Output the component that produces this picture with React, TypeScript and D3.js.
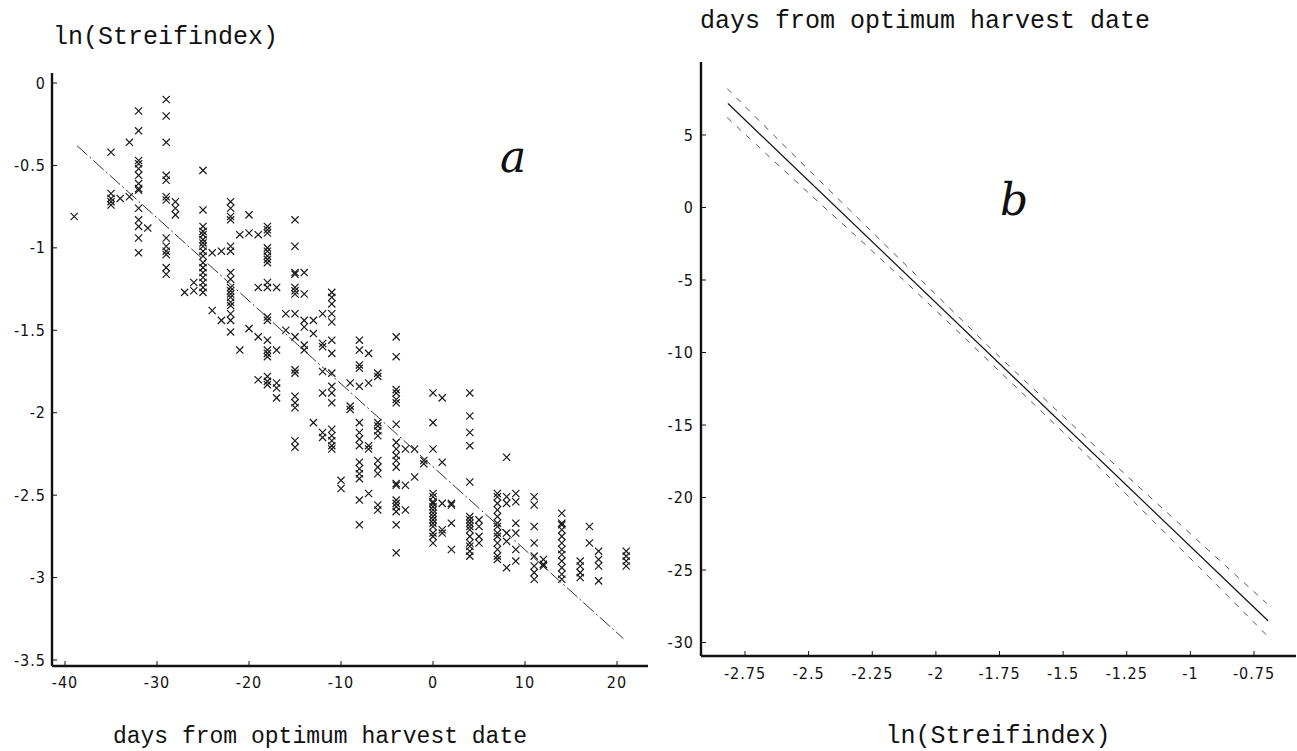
import React from "react";
import * as d3 from "d3";

const W = 1297;
const H = 751;

// ---------- Panel a: scatter, days from optimum harvest date vs ln(Streifindex)
const scatterColumns: [number, number[]][] = [
  [-39, [-0.81]],
  [-35, [-0.42, -0.67, -0.7, -0.72, -0.74]],
  [-34, [-0.7]],
  [-33, [-0.36, -0.69]],
  [-32, [-0.17, -0.29, -0.47, -0.49, -0.52, -0.56, -0.61, -0.64, -0.65, -0.76, -0.83, -0.87, -0.94, -1.03]],
  [-31, [-0.88]],
  [-29, [-0.1, -0.2, -0.36, -0.56, -0.59, -0.69, -0.71, -0.94, -0.99, -1.02, -1.04, -1.12, -1.16]],
  [-28, [-0.72, -0.76, -0.8]],
  [-27, [-1.27]],
  [-26, [-1.21, -1.26]],
  [-25, [-0.53, -0.77, -0.87, -0.9, -0.92, -0.95, -0.97, -0.99, -1.02, -1.05, -1.09, -1.12, -1.15, -1.18, -1.21, -1.24, -1.27]],
  [-24, [-1.03, -1.38]],
  [-23, [-1.02, -1.44]],
  [-22, [-0.72, -0.76, -0.81, -0.83, -0.99, -1.02, -1.15, -1.19, -1.24, -1.26, -1.28, -1.3, -1.33, -1.35, -1.4, -1.44, -1.51]],
  [-21, [-0.92, -1.62]],
  [-20, [-0.8, -0.91, -1.49]],
  [-19, [-0.92, -1.24, -1.54, -1.8]],
  [-18, [-0.87, -0.89, -0.91, -1.0, -1.02, -1.05, -1.07, -1.09, -1.21, -1.24, -1.42, -1.44, -1.56, -1.62, -1.64, -1.66, -1.78, -1.81, -1.83]],
  [-17, [-1.24, -1.62, -1.82, -1.85, -1.91]],
  [-16, [-1.4, -1.5]],
  [-15, [-0.83, -0.99, -1.15, -1.16, -1.24, -1.26, -1.28, -1.4, -1.54, -1.74, -1.76, -1.9, -1.94, -1.97, -2.17, -2.21]],
  [-14, [-1.15, -1.28, -1.44, -1.48, -1.59, -1.62]],
  [-13, [-1.44, -1.52, -2.06]],
  [-12, [-1.4, -1.58, -1.6, -1.75, -1.88, -2.12, -2.15]],
  [-11, [-1.27, -1.3, -1.34, -1.4, -1.45, -1.56, -1.64, -1.76, -1.84, -1.88, -1.94, -2.1, -2.14, -2.17, -2.2, -2.22]],
  [-10, [-2.41, -2.46]],
  [-9, [-1.82, -1.96, -1.98]],
  [-8, [-1.56, -1.62, -1.71, -1.73, -1.84, -2.06, -2.12, -2.16, -2.2, -2.3, -2.34, -2.37, -2.4, -2.53, -2.68]],
  [-7, [-1.64, -1.82, -2.2, -2.22, -2.49]],
  [-6, [-1.76, -1.78, -2.06, -2.08, -2.11, -2.14, -2.29, -2.33, -2.37, -2.56, -2.59]],
  [-4, [-1.54, -1.66, -1.86, -1.88, -1.92, -1.94, -2.07, -2.18, -2.22, -2.26, -2.29, -2.33, -2.43, -2.44, -2.53, -2.55, -2.57, -2.6, -2.68, -2.85]],
  [-3, [-2.22, -2.44, -2.59]],
  [-2, [-2.22, -2.39]],
  [-1, [-2.29, -2.31]],
  [0, [-1.88, -2.06, -2.22, -2.49, -2.51, -2.54, -2.55, -2.57, -2.59, -2.61, -2.63, -2.65, -2.67, -2.69, -2.73, -2.75, -2.79]],
  [1, [-1.91, -2.3, -2.55, -2.71, -2.73]],
  [2, [-2.55, -2.56, -2.67, -2.83]],
  [4, [-1.88, -2.02, -2.12, -2.2, -2.42, -2.63, -2.65, -2.67, -2.69, -2.71, -2.75, -2.79, -2.81, -2.84, -2.87]],
  [5, [-2.65, -2.69, -2.75, -2.79]],
  [7, [-2.49, -2.51, -2.55, -2.59, -2.63, -2.67, -2.69, -2.73, -2.75, -2.79, -2.83, -2.87, -2.89]],
  [8, [-2.27, -2.51, -2.55, -2.73, -2.78, -2.94]],
  [9, [-2.49, -2.54, -2.67, -2.73, -2.83, -2.9]],
  [11, [-2.51, -2.56, -2.69, -2.79, -2.87, -2.93, -2.97, -3.01]],
  [12, [-2.89, -2.92, -2.93]],
  [14, [-2.61, -2.67, -2.68, -2.71, -2.75, -2.79, -2.83, -2.86, -2.9, -2.94, -2.98, -3.01]],
  [16, [-2.9, -2.93, -2.97, -3.0]],
  [17, [-2.69, -2.79]],
  [18, [-2.84, -2.89, -2.93, -3.02]],
  [21, [-2.84, -2.87, -2.9, -2.93]],
];

// regression line of panel a (end points)
const fitADays = [-38.7, 20.7];
const fitALnS = [-0.38, -3.37];

const xTicksA = [-40, -30, -20, -10, 0, 10, 20];
const yTicksA = [0, -0.5, -1, -1.5, -2, -2.5, -3, -3.5];

// ---------- Panel b: inverse regression with bands
const fitBLnS = [-2.817, -0.695];
const fitBDays = [7.17, -28.5];
const bandLnS = [-2.82, -2.5, -2.25, -2.0, -1.75, -1.5, -1.25, -1.0, -0.7];
const bandUpper = [8.2, 2.6, -1.7, -6.0, -10.3, -14.4, -18.5, -22.5, -27.3];
const bandLower = [6.2, 1.0, -3.0, -7.1, -11.3, -15.5, -19.8, -24.2, -29.5];

const xTicksB = [-2.75, -2.5, -2.25, -2, -1.75, -1.5, -1.25, -1, -0.75];
const yTicksB = [5, 0, -5, -10, -15, -20, -25, -30];

const titleFont = "'Liberation Mono', 'DejaVu Sans Mono', monospace";
const tickFont = "'DejaVu Sans Condensed', 'Liberation Sans Narrow', 'Liberation Sans', sans-serif";
const ink = "#111";

export default function App() {
  // panel a scales
  const xA = d3.scaleLinear().domain([-40, 20]).range([65, 617]);
  const yA = d3.scaleLinear().domain([0, -3.5]).range([83, 660]);
  const axA = { left: 52, top: 73, bottom: 666, right: 648 };

  // panel b scales
  const xB = d3.scaleLinear().domain([-2.75, -0.75]).range([745, 1254]);
  const yB = d3.scaleLinear().domain([5, -30]).range([135, 642.5]);
  const axB = { left: 701, top: 62, bottom: 656, right: 1296 };

  const points: { d: number; v: number }[] = [];
  scatterColumns.forEach(([d, vals]) => vals.forEach((v) => points.push({ d, v })));

  const lineA = d3
    .line<number>()
    .x((_, i) => xA(fitADays[i]))
    .y((v) => yA(v));
  const lineB = d3
    .line<number>()
    .x((_, i) => xB(fitBLnS[i]))
    .y((v) => yB(v));
  const bandLine = d3
    .line<number>()
    .x((_, i) => xB(bandLnS[i]))
    .y((v) => yB(v))
    .curve(d3.curveMonotoneX);

  const m = 3.6; // marker half size
  const tickProps = {
    fontFamily: tickFont,
    fontSize: 16,
    letterSpacing: 1,
    fill: ink,
  };

  return (
    <svg
      width={W}
      height={H}
      style={{ position: "absolute", left: 0, top: 0, background: "#fff" }}
    >
      {/* ---------------- Panel a ---------------- */}
      <text x={53} y={44} fontFamily={titleFont} fontSize={25} fill={ink}>
        ln(Streifindex)
      </text>
      <line x1={axA.left} y1={axA.top} x2={axA.left} y2={axA.bottom} stroke={ink} strokeWidth={2.4} />
      <line x1={axA.left} y1={axA.bottom} x2={axA.right} y2={axA.bottom} stroke={ink} strokeWidth={2.4} />
      {yTicksA.map((t) => (
        <g key={"ya" + t}>
          <line x1={axA.left} x2={axA.left + 5} y1={yA(t)} y2={yA(t)} stroke={ink} strokeWidth={1} />
          <text x={axA.left - 6} y={yA(t)} dy="0.35em" textAnchor="end" {...tickProps}>
            {String(t)}
          </text>
        </g>
      ))}
      {xTicksA.map((t) => (
        <g key={"xa" + t}>
          <line x1={xA(t)} x2={xA(t)} y1={axA.bottom} y2={axA.bottom - 5} stroke={ink} strokeWidth={1} />
          <text x={xA(t)} y={axA.bottom + 16} dy="0.35em" textAnchor="middle" {...tickProps}>
            {t}
          </text>
        </g>
      ))}
      <path d={lineA(fitALnS) || ""} fill="none" stroke="#333" strokeWidth={1} strokeDasharray="14,3,2,3" />
      {points.map((p, i) => {
        const cx = xA(p.d);
        const cy = yA(p.v);
        return (
          <path
            key={"p" + i}
            d={`M${cx - m},${cy - m}L${cx + m},${cy + m}M${cx - m},${cy + m}L${cx + m},${cy - m}`}
            stroke="#1a1a1a"
            strokeWidth={1.2}
            fill="none"
          />
        );
      })}
      <text x={500} y={172} fontFamily="'DejaVu Serif', serif" fontStyle="italic" fontSize={44} fill={ink}>
        a
      </text>
      <text x={320} y={743} textAnchor="middle" fontFamily={titleFont} fontSize={23} fill={ink}>
        days from optimum harvest date
      </text>

      {/* ---------------- Panel b ---------------- */}
      <text x={700} y={28} fontFamily={titleFont} fontSize={25} fill={ink}>
        days from optimum harvest date
      </text>
      <line x1={axB.left} y1={axB.top} x2={axB.left} y2={axB.bottom} stroke={ink} strokeWidth={2.4} />
      <line x1={axB.left} y1={axB.bottom} x2={axB.right} y2={axB.bottom} stroke={ink} strokeWidth={2.4} />
      {yTicksB.map((t) => (
        <g key={"yb" + t}>
          <line x1={axB.left} x2={axB.left + 5} y1={yB(t)} y2={yB(t)} stroke={ink} strokeWidth={1} />
          <text x={axB.left - 7} y={yB(t)} dy="0.35em" textAnchor="end" {...tickProps}>
            {t}
          </text>
        </g>
      ))}
      {xTicksB.map((t) => (
        <g key={"xb" + t}>
          <line x1={xB(t)} x2={xB(t)} y1={axB.bottom} y2={axB.bottom - 5} stroke={ink} strokeWidth={1} />
          <text x={xB(t)} y={axB.bottom + 17} dy="0.35em" textAnchor="middle" {...tickProps}>
            {t}
          </text>
        </g>
      ))}
      <path d={bandLine(bandUpper) || ""} fill="none" stroke="#555" strokeWidth={1} strokeDasharray="6,7" />
      <path d={bandLine(bandLower) || ""} fill="none" stroke="#555" strokeWidth={1} strokeDasharray="6,7" />
      <path d={lineB(fitBDays) || ""} fill="none" stroke={ink} strokeWidth={1.2} />
      <text x={1000} y={215} fontFamily="'DejaVu Serif', serif" fontStyle="italic" fontSize={44} fill={ink}>
        b
      </text>
      <text x={998} y={743} textAnchor="middle" fontFamily={titleFont} fontSize={25} fill={ink}>
        ln(Streifindex)
      </text>
    </svg>
  );
}
